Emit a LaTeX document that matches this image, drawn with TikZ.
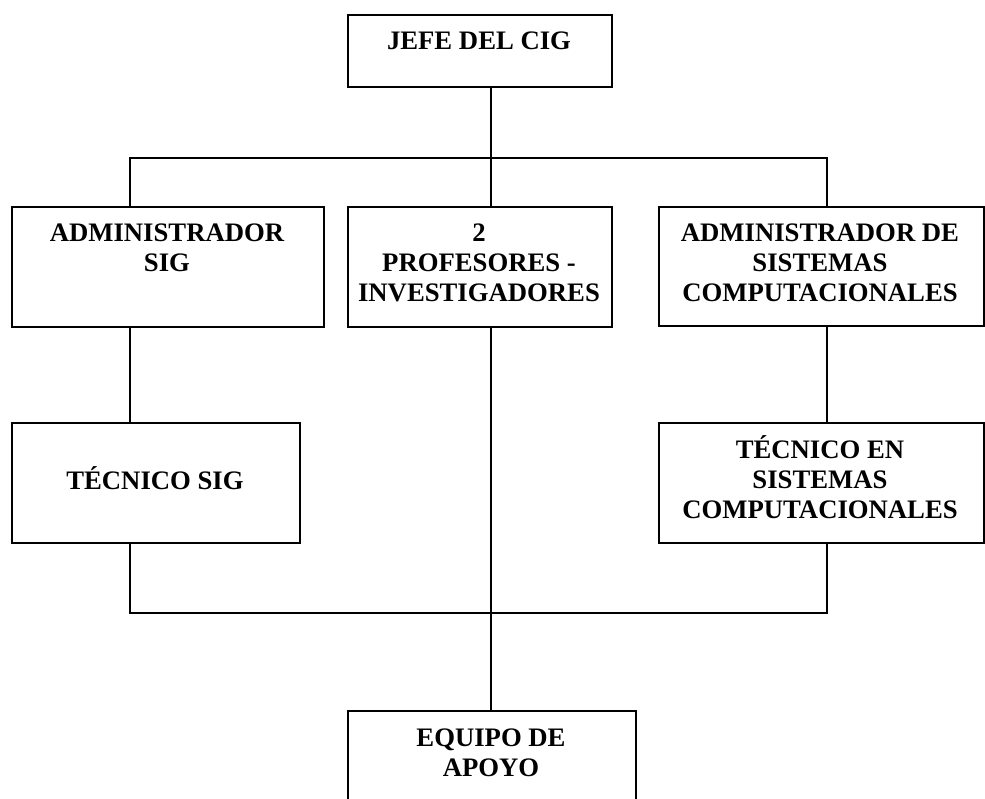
\documentclass[tikz,border=0pt]{standalone}
\usepackage{fontspec}
\setmainfont{Liberation Serif}
\begin{document}
\begin{tikzpicture}[x=1pt,y=-1pt,
  box/.style={draw, line width=1.6pt, anchor=north west, inner sep=0pt},
  txt/.style={anchor=base, align=center, inner sep=0pt,
    font=\fontsize{26.7}{30}\selectfont\bfseries},
  conn/.style={line width=1.6pt}]
\useasboundingbox (0,0) rectangle (985,799);
% boxes
\node[box, minimum width=264, minimum height=72] (jefe) at (347,14) {};
\node[box, minimum width=312, minimum height=120] (adm) at (11,206) {};
\node[box, minimum width=264, minimum height=120] (prof) at (347,206) {};
\node[box, minimum width=325, minimum height=119] (admsis) at (658,206) {};
\node[box, minimum width=288, minimum height=120] (tec) at (11,422) {};
\node[box, minimum width=325, minimum height=120] (tecsis) at (658,422) {};
\node[box, minimum width=288, minimum height=120] (equipo) at (347,710) {};
% texts
\node[txt] (tjefe) at (479,50) {JEFE DEL CIG};
\node[txt] (tadm1) at (167,242) {ADMINISTRADOR};
\node[txt] (tadm2) at (167,272) {SIG};
\node[txt] (tprof1) at (479,242) {2};
\node[txt] (tprof2) at (479,272) {PROFESORES -};
\node[txt] (tprof3) at (479,302) {INVESTIGADORES};
\node[txt] (tas1) at (820,242) {ADMINISTRADOR DE};
\node[txt] (tas2) at (820,272) {SISTEMAS};
\node[txt] (tas3) at (820,302) {COMPUTACIONALES};
\node[txt] (ttec) at (155,489) {TÉCNICO SIG};
\node[txt] (tts1) at (820,458) {TÉCNICO EN};
\node[txt] (tts2) at (820,488) {SISTEMAS};
\node[txt] (tts3) at (820,518) {COMPUTACIONALES};
\node[txt] (teq1) at (491,746) {EQUIPO DE};
\node[txt] (teq2) at (491,776) {APOYO};
% connector coordinates
\coordinate (T) at (491,158);
\coordinate (L) at (130,158);
\coordinate (R) at (827,158);
\coordinate (B) at (491,613);
% connectors
\draw[conn] (T |- jefe.south) -- (T);
\draw[conn] (L |- adm.north) -- (L) -- (R) -- (R |- admsis.north);
\draw[conn] (T) -- (T |- prof.north);
\draw[conn] (L |- adm.south) -- (L |- tec.north);
\draw[conn] (R |- admsis.south) -- (R |- tecsis.north);
\draw[conn] (L |- tec.south) |- (B) -| (R |- tecsis.south);
\draw[conn] (T |- prof.south) -- (B) -- (T |- equipo.north);
\end{tikzpicture}
\end{document}
